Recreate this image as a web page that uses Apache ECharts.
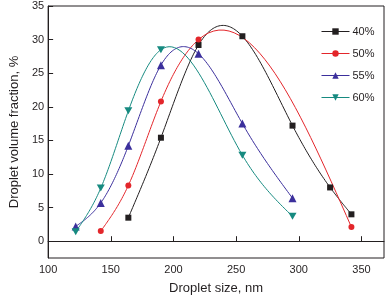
<!DOCTYPE html>
<html>
<head>
<meta charset="utf-8">
<script src="https://cdn.jsdelivr.net/npm/echarts@6/dist/echarts.min.js"></script>
<style>
  html, body { margin: 0; padding: 0; background: #fff; }
  #chart { width: 388px; height: 300px; }
</style>
</head>
<body>
<div id="chart"></div>
<script>
// droplet size (nm) and volume fraction (%) for each concentration
var seriesNames = ['40%', '50%', '55%', '60%'];
var size40 = [164, 190, 220, 255, 295, 325, 342];
var frac40 = [3.5, 15.4, 29.2, 30.5, 17.2, 8.0, 4.0];
var size50 = [142, 164, 190, 220, 342];
var frac50 = [1.5, 8.3, 20.8, 30.0, 2.1];
var size55 = [122, 142, 164, 190, 220, 255, 295];
var frac55 = [2.2, 5.7, 14.2, 26.2, 27.9, 17.5, 6.4];
var size60 = [122, 142, 164, 190, 255, 295];
var frac60 = [1.4, 7.9, 19.4, 28.5, 12.8, 3.7];
var xTicks = [100, 150, 200, 250, 300, 350];
var yTicks = [0, 5, 10, 15, 20, 25, 30, 35];

(function() {
  var ink = '#231f20';
  var font = '"Liberation Sans", Arial, sans-serif';
  var colors = ['#231f20', '#e3262b', '#3b2f9c', '#168a80'];
  var symbols = ['rect', 'circle', 'triangle', 'path://M0,0 L10,0 L5,9 Z'];

  function pairs(xs, ys) {
    return xs.map(function(x, i) { return [x, ys[i]]; });
  }
  var sets = [pairs(size40, frac40), pairs(size50, frac50), pairs(size55, frac55), pairs(size60, frac60)];
  var sizes = [size40, size50, size55, size60];
  var fracs = [frac40, frac50, frac55, frac60];

  // natural cubic spline: second derivatives at the knots
  function splineM(xs, ys) {
    var n = xs.length, m = new Array(n).fill(0);
    if (n < 3) return m;
    var a = [], b = [], c = [], d = [];
    for (var i = 1; i < n - 1; i++) {
      var h0 = xs[i] - xs[i - 1], h1 = xs[i + 1] - xs[i];
      a.push(h0); b.push(2 * (h0 + h1)); c.push(h1);
      d.push(6 * ((ys[i + 1] - ys[i]) / h1 - (ys[i] - ys[i - 1]) / h0));
    }
    var k = b.length;
    for (var j = 1; j < k; j++) {
      var w = a[j] / b[j - 1];
      b[j] -= w * c[j - 1];
      d[j] -= w * d[j - 1];
    }
    var sol = new Array(k);
    sol[k - 1] = d[k - 1] / b[k - 1];
    for (var j2 = k - 2; j2 >= 0; j2--) sol[j2] = (d[j2] - c[j2] * sol[j2 + 1]) / b[j2];
    for (var t = 0; t < k; t++) m[t + 1] = sol[t];
    return m;
  }

  function splinePoints(xs, ys, api) {
    var m = splineM(xs, ys), out = [];
    for (var i = 0; i < xs.length - 1; i++) {
      var h = xs[i + 1] - xs[i], steps = 30;
      for (var s = 0; s <= steps; s++) {
        if (i > 0 && s === 0) continue;
        var x = xs[i] + h * s / steps;
        var A = (xs[i + 1] - x) / h, B = (x - xs[i]) / h;
        var y = A * ys[i] + B * ys[i + 1] +
          ((A * A * A - A) * m[i] + (B * B * B - B) * m[i + 1]) * h * h / 6;
        out.push(api.coord([x, y]));
      }
    }
    return out;
  }

  var series = [];
  // markers first so the legend takes its icon from them
  seriesNames.forEach(function(name, i) {
    series.push({
      name: name,
      type: 'line',
      data: sets[i],
      symbol: symbols[i],
      symbolSize: i === 2 ? 8 : (i === 3 ? [8, 7] : 6),
      showAllSymbol: true,
      lineStyle: { width: 0, opacity: 0 },
      itemStyle: { color: colors[i] },
      z: 3
    });
  });
  // the spline curves
  seriesNames.forEach(function(name, i) {
    series.push({
      name: name,
      type: 'custom',
      silent: true,
      data: sets[i],
      encode: { x: 0, y: 1 },
      renderItem: function(params, api) {
        if (params.dataIndex !== 0) return null;
        return {
          type: 'polyline',
          shape: { points: splinePoints(sizes[i], fracs[i], api) },
          style: { stroke: colors[i], lineWidth: 1, fill: null }
        };
      },
      z: 2
    });
  });

  var chart = echarts.init(document.getElementById('chart'), null, { renderer: 'canvas' });
  chart.setOption({
    animation: false,
    textStyle: { fontFamily: font, color: ink },
    grid: {
      left: 38, right: 4, top: 6, bottom: 39,
      show: true, borderColor: ink, borderWidth: 1, containLabel: false
    },
    legend: {
      orient: 'vertical',
      left: 316,
      top: 21,
      itemWidth: 28,
      itemHeight: 8,
      itemGap: 11,
      textStyle: { color: ink, fontSize: 11, fontFamily: font, padding: [0, 0, 0, -2] },
      data: seriesNames.map(function(name, i) {
        return {
          name: name,
          lineStyle: { color: colors[i], width: 1, opacity: 1 }
        };
      })
    },
    xAxis: {
      type: 'value',
      min: 100,
      max: 368,
      name: 'Droplet size, nm',
      nameLocation: 'middle',
      nameGap: 24,
      nameTextStyle: { fontSize: 13, color: ink },
      axisLine: { lineStyle: { color: ink } },
      axisTick: { inside: true, length: 5, lineStyle: { color: ink }, customValues: xTicks },
      axisLabel: { color: ink, fontSize: 11, margin: 6, customValues: xTicks },
      splitLine: { show: false }
    },
    yAxis: {
      type: 'value',
      min: -2.5,
      max: 35,
      name: 'Droplet volume fraction, %',
      nameLocation: 'middle',
      nameGap: 25,
      nameTextStyle: { fontSize: 13, color: ink },
      axisLine: { show: true, lineStyle: { color: ink } },
      axisTick: { show: true, inside: true, length: 5, lineStyle: { color: ink }, customValues: yTicks },
      axisLabel: { color: ink, fontSize: 11, margin: 4, customValues: yTicks },
      splitLine: { show: false }
    },
    series: series
  });
})();
</script>
</body>
</html>
